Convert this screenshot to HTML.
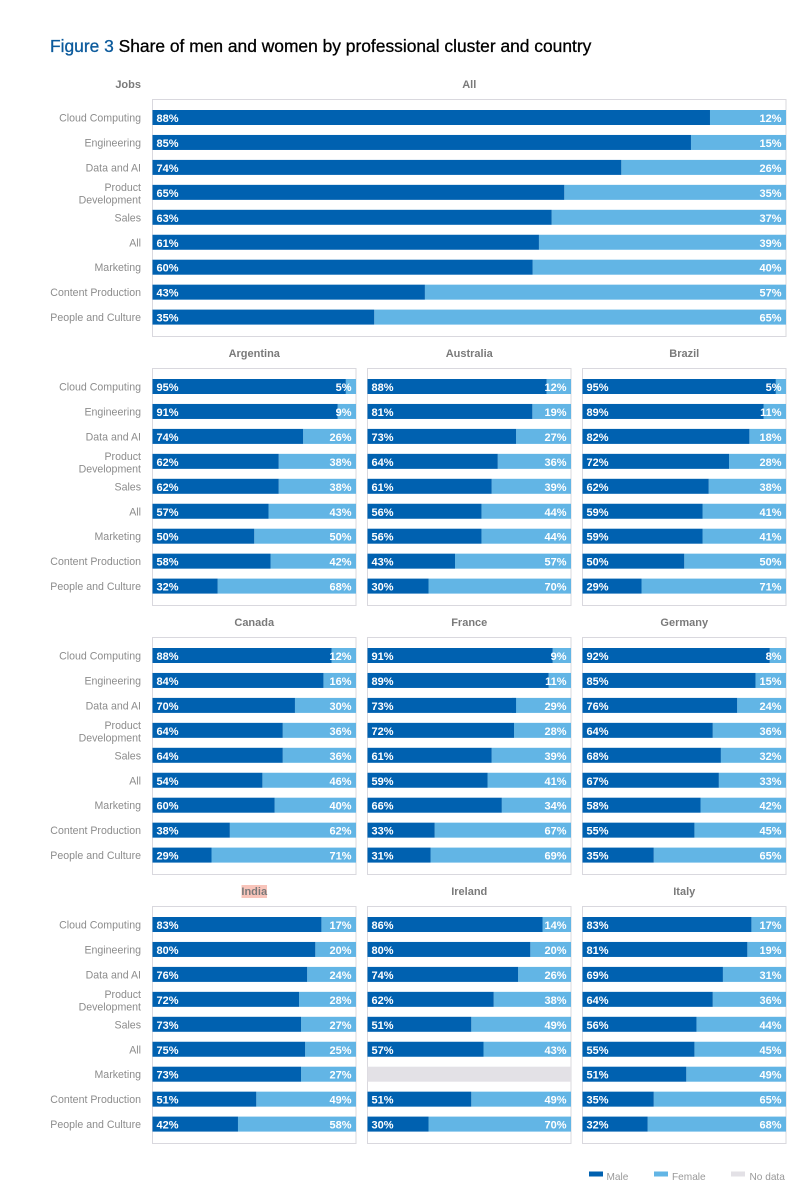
<!DOCTYPE html>
<html lang="en">
<head>
<meta charset="utf-8">
<title>Figure 3 Share of men and women by professional cluster and country</title>
<style>
html,body{margin:0;padding:0;background:#fff;width:812px;height:1200px;overflow:hidden}
svg{display:block;font-family:"Liberation Sans",sans-serif}
.val{font-size:11px;font-weight:700;fill:#fff}
.cat{font-size:10.6px;fill:#8c8c8c}
.ttl{font-size:11px;font-weight:700;fill:#7a7a7a}
.leg{font-size:10.1px;fill:#999}
</style>
</head>
<body>
<svg id="chart" xmlns="http://www.w3.org/2000/svg" width="812" height="1200" viewBox="0 0 812 1200">
  <text x="50" y="52" font-size="17.4" font-weight="400" fill="#000" stroke="#000" stroke-width="0.3"><tspan fill="#0b5a9c" stroke="#0b5a9c">Figure 3</tspan> Share of men and women by professional cluster and country</text>
  <rect x="241.5" y="885" width="25.5" height="13" fill="#f8c4ba"/>
  <g id="panels"></g>
  <g>
    <g>
      <rect x="589" y="1171.5" width="14" height="5" fill="#0061b0"/>
      <text class="leg" x="606.5" y="1180">Male</text>
    </g>
    <g>
      <rect x="654" y="1171.5" width="14" height="5" fill="#62b5e5"/>
      <text class="leg" x="672" y="1180">Female</text>
    </g>
    <g>
      <rect x="731" y="1171.5" width="14" height="5" fill="#e3e1e6"/>
      <text class="leg" x="749.5" y="1180">No data</text>
    </g>
  </g>
</svg>
<script>
const categories = ["Cloud Computing","Engineering","Data and AI","Product Development","Sales","All","Marketing","Content Production","People and Culture"];
const tickFormatSuffix = "%";

const allMale = [88,85,74,65,63,61,60,43,35];
const allFemale = [12,15,26,35,37,39,40,57,65];
const argentinaMale = [95,91,74,62,62,57,50,58,32];
const argentinaFemale = [5,9,26,38,38,43,50,42,68];
const australiaMale = [88,81,73,64,61,56,56,43,30];
const australiaFemale = [12,19,27,36,39,44,44,57,70];
const brazilMale = [95,89,82,72,62,59,59,50,29];
const brazilFemale = [5,11,18,28,38,41,41,50,71];
const canadaMale = [88,84,70,64,64,54,60,38,29];
const canadaFemale = [12,16,30,36,36,46,40,62,71];
const franceMale = [91,89,73,72,61,59,66,33,31];
const franceFemale = [9,11,29,28,39,41,34,67,69];
const germanyMale = [92,85,76,64,68,67,58,55,35];
const germanyFemale = [8,15,24,36,32,33,42,45,65];
const indiaMale = [83,80,76,72,73,75,73,51,42];
const indiaFemale = [17,20,24,28,27,25,27,49,58];
const irelandMale = [86,80,74,62,51,57,null,51,30];
const irelandFemale = [14,20,26,38,49,43,null,49,70];
const italyMale = [83,81,69,64,56,55,51,35,32];
const italyFemale = [17,19,31,36,44,45,49,65,68];

const countryRows = [
  [["All",allMale,allFemale]],
  [["Argentina",argentinaMale,argentinaFemale],["Australia",australiaMale,australiaFemale],["Brazil",brazilMale,brazilFemale]],
  [["Canada",canadaMale,canadaFemale],["France",franceMale,franceFemale],["Germany",germanyMale,germanyFemale]],
  [["India",indiaMale,indiaFemale],["Ireland",irelandMale,irelandFemale],["Italy",italyMale,italyFemale]]
];

const NS = "http://www.w3.org/2000/svg";
const root = document.getElementById("panels");
const LAYOUT = {rowTops:[99.5,368.5,637.5,906.5], panelH:237, firstBar:10.5, step:24.95, barH:15, lefts:[152.5,367.5,582.5], smallW:203.5, fullW:633.5};

function mk(parent, tag, attrs, text){
  const el = document.createElementNS(NS, tag);
  for (const k in attrs) el.setAttribute(k, attrs[k]);
  if (text !== undefined) el.textContent = text;
  parent.appendChild(el);
  return el;
}
function slug(s){ return s.toLowerCase().replace(/[^a-z0-9]+/g, "-"); }
function yBand(rowTop, i){ return rowTop + LAYOUT.firstBar + i * LAYOUT.step; }

countryRows.forEach(function(row, r){
  const top = LAYOUT.rowTops[r];
  const rowG = mk(root, "g", {});
  
  

  categories.forEach(function(cat, i){
    const cy = yBand(top, i) + LAYOUT.barH / 2;
    const t = mk(rowG, "text", {class:"cat", x:141, "text-anchor":"end"});
    
    
    if (cat === "Product Development") {
      const a = mk(t, "tspan", {x:141, y:cy - 1.5}, "Product");
      
      
      const b = mk(t, "tspan", {x:141, y:cy + 11}, "Development");
      
      
    } else {
      t.setAttribute("y", cy + 4);
      t.textContent = cat;
    }
  });

  if (r === 0) {
    const jobs = mk(rowG, "text", {class:"ttl", x:141, y:top - 11.5, "text-anchor":"end"}, "Jobs");
    
    
  }

  row.forEach(function(panel, p){
    const name = panel[0], male = panel[1], female = panel[2];
    const left = LAYOUT.lefts[p];
    const width = row.length === 1 ? LAYOUT.fullW : LAYOUT.smallW;
    const xScale = function(v){ return left + v / 100 * width; };

    const g = mk(rowG, "g", {});
    
    

    const title = mk(g, "text", {class:"ttl", x:left + width / 2, y:top - 11.5, "text-anchor":"middle"}, name);
    
    

    const frame = mk(g, "rect", {x:left, y:top, width:width, height:LAYOUT.panelH, fill:"#fff", stroke:"#d9d8de", "stroke-width":1});
    
    

    categories.forEach(function(cat, i){
      const y = yBand(top, i);
      const m = male[i], f = female[i];
      if (m === null || f === null) {
        const nd = mk(g, "rect", {x:xScale(0), y:y, width:xScale(100) - xScale(0), height:LAYOUT.barH, fill:"#e3e1e6"});
        
        
        return;
      }
      const fb = mk(g, "rect", {x:xScale(100 - f), y:y, width:xScale(100) - xScale(100 - f), height:LAYOUT.barH, fill:"#62b5e5"});
      
      
      const mb = mk(g, "rect", {x:xScale(0), y:y, width:xScale(m) - xScale(0), height:LAYOUT.barH, fill:"#0061b0"});
      
      
      const mt = mk(g, "text", {class:"val", x:xScale(0) + 4, y:y + 12}, m + tickFormatSuffix);
      
      
      const ft = mk(g, "text", {class:"val", x:xScale(100) - 4.5, y:y + 12, "text-anchor":"end"}, f + tickFormatSuffix);
      
      
    });
  });
});
</script>
</body>
</html>
